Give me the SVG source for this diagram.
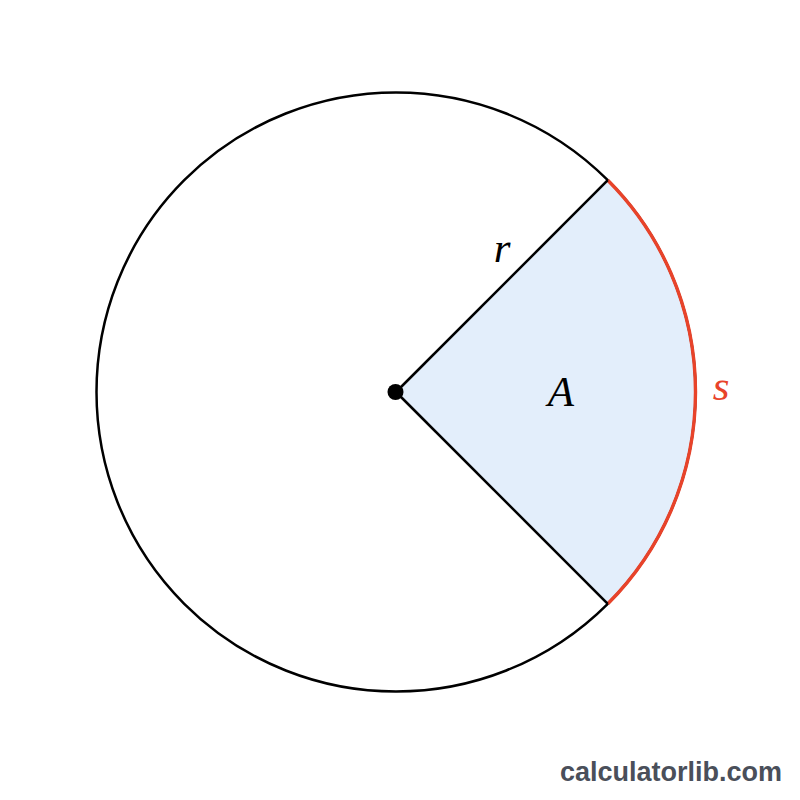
<svg xmlns="http://www.w3.org/2000/svg" width="800" height="800" viewBox="0 0 800 800">
<style>
.lbl{font-family:"Liberation Serif","DejaVu Serif",serif;font-style:italic;font-size:43px;text-anchor:middle}
.wm{font-family:"Liberation Sans","Arial",sans-serif;font-weight:bold;font-size:27px;fill:#4a4f5a;text-anchor:end}
</style>
<rect width="800" height="800" fill="#ffffff"/>
<g id="sector">
<path d="M396 392 L607.78 180.22 A299.5 299.5 0 0 1 607.78 603.78 Z" fill="#e3eefb" stroke="none"/>
</g>
<g id="circle">
<circle cx="396" cy="392" r="299.5" fill="none" stroke="#000" stroke-width="2.5"/>
</g>
<g id="arc">
<path d="M607.78 180.22 A299.5 299.5 0 0 1 607.78 603.78" fill="none" stroke="#e8432a" stroke-width="3.4"/>
</g>
<g id="connectors">
<line x1="396" y1="392" x2="607.78" y2="180.22" stroke="#000" stroke-width="2.5"/>
<line x1="396" y1="392" x2="607.78" y2="603.78" stroke="#000" stroke-width="2.5"/>
</g>
<g id="center">
<circle cx="395.5" cy="392" r="8" fill="#000"/>
</g>
<g id="labels">
<text class="lbl" x="502" y="262">r</text>
<text class="lbl" x="561" y="406">A</text>
<text class="lbl" x="721" y="400" fill="#e8432a">s</text>
</g>
<text class="wm" x="782" y="781">calculatorlib.com</text>
</svg>
